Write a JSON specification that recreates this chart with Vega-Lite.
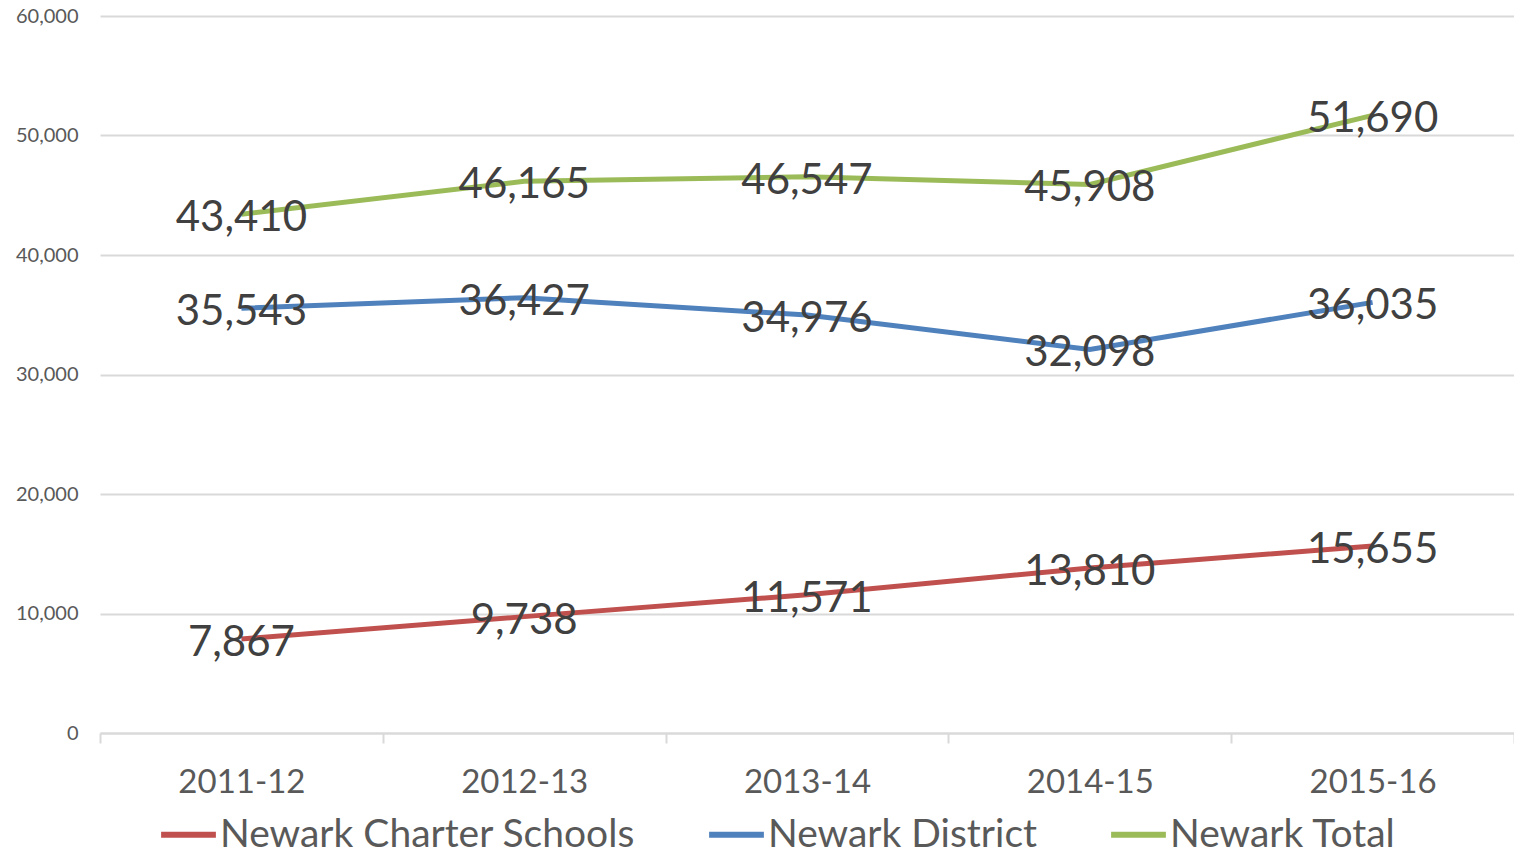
{
  "$schema": "https://vega.github.io/schema/vega-lite/v6.json",
  "autosize": {"type": "none"},
  "width": 1414,
  "height": 717,
  "padding": {"left": 100, "top": 16, "right": 0, "bottom": 122},
  "background": "white",
  "config": {"view": {"stroke": null}, "font": "Lato"},
  "data": {"values": [
    {"year": "2011-12", "series": "Newark Charter Schools", "value": 7867},
    {"year": "2012-13", "series": "Newark Charter Schools", "value": 9738},
    {"year": "2013-14", "series": "Newark Charter Schools", "value": 11571},
    {"year": "2014-15", "series": "Newark Charter Schools", "value": 13810},
    {"year": "2015-16", "series": "Newark Charter Schools", "value": 15655},
    {"year": "2011-12", "series": "Newark District", "value": 35543},
    {"year": "2012-13", "series": "Newark District", "value": 36427},
    {"year": "2013-14", "series": "Newark District", "value": 34976},
    {"year": "2014-15", "series": "Newark District", "value": 32098},
    {"year": "2015-16", "series": "Newark District", "value": 36035},
    {"year": "2011-12", "series": "Newark Total", "value": 43410},
    {"year": "2012-13", "series": "Newark Total", "value": 46165},
    {"year": "2013-14", "series": "Newark Total", "value": 46547},
    {"year": "2014-15", "series": "Newark Total", "value": 45908},
    {"year": "2015-16", "series": "Newark Total", "value": 51690}
  ]},
  "encoding": {
    "x": {
      "field": "year", "type": "ordinal", "bandPosition": 0.5,
      "scale": {"type": "band", "paddingInner": 0, "paddingOuter": 0},
      "axis": {
        "title": null, "labelAngle": 0, "tickBand": "extent",
        "domainColor": "#d9d9d9", "domainWidth": 2, "tickColor": "#d9d9d9", "tickWidth": 2, "tickSize": 10,
        "labelFontSize": 33, "labelColor": "#595959", "labelPadding": 23
      }
    },
    "y": {
      "field": "value", "type": "quantitative",
      "scale": {"domain": [0, 60000], "nice": false},
      "axis": {
        "title": null, "values": [0, 10000, 20000, 30000, 40000, 50000, 60000], "format": ",d",
        "domain": false, "ticks": false, "gridColor": "#d9d9d9", "gridWidth": 2,
        "labelFontSize": 20, "labelColor": "#595959", "labelPadding": 22
      }
    }
  },
  "layer": [
    {
      "mark": {"type": "line", "strokeWidth": 5},
      "encoding": {
        "color": {
          "field": "series", "type": "nominal",
          "scale": {"domain": ["Newark Charter Schools", "Newark District", "Newark Total"], "range": ["#C0504D", "#4F81BD", "#9BBB59"]},
          "legend": {
            "title": null, "orient": "none", "direction": "horizontal", "legendX": 58, "legendY": 788,
            "symbolType": "stroke", "symbolSize": 3000, "symbolStrokeWidth": 6,
            "labelFontSize": 39, "labelColor": "#595959", "labelOffset": 1, "columnPadding": 61,
            "labelLimit": 600
          }
        }
      }
    },
    {
      "mark": {"type": "text", "fontSize": 42, "color": "#404040", "baseline": "middle", "dy": 4},
      "encoding": {
        "text": {"field": "value", "type": "quantitative", "format": ","},
        "detail": {"field": "series"}
      }
    }
  ]
}
